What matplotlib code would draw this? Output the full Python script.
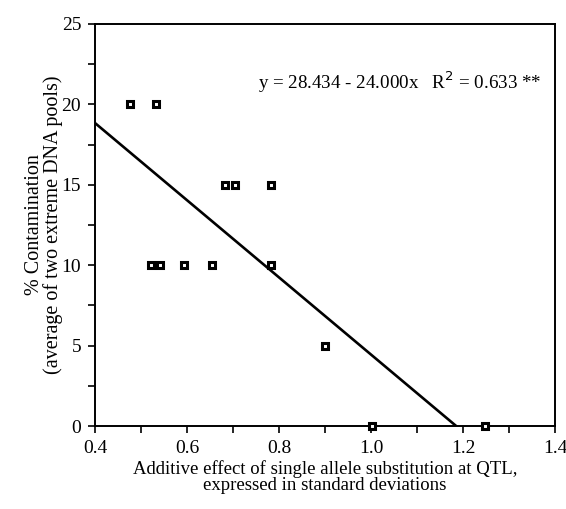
import matplotlib
matplotlib.use("Agg")
import matplotlib.pyplot as plt
from matplotlib.ticker import MultipleLocator, FormatStrFormatter

plt.rcParams["font.family"] = ["Liberation Serif", "DejaVu Serif"]

# additive effect (SD units) vs % contamination
effect = [0.475, 0.532, 0.521, 0.542, 0.593, 0.655, 0.683, 0.704, 0.783, 0.783, 0.900, 1.001, 1.248]
contam = [20, 20, 10, 10, 10, 10, 15, 15, 15, 10, 5, 0, 0]

# regression y = a + b*x
intercept = 28.434
slope = -24.000
r2 = 0.633

fig = plt.figure(figsize=(5.66, 5.09), dpi=100)
ax = fig.add_axes([0.168, 0.163, 0.813, 0.790])

x0 = 0.4
x1 = -intercept / slope
ax.plot([x0, x1], [intercept + slope * x0, intercept + slope * x1], color="black", lw=1.9, zorder=2)
ax.plot(effect, contam, linestyle="none", marker="s", ms=3.8, mfc="white", mec="black", mew=2.2,
        clip_on=False, zorder=3)

ax.text(0.755, 21.4, "y = 28.434 - 24.000x   R$^2$ = %.3f **" % r2, fontsize=13.7, va="center")

ax.set_xlim(0.4, 1.4)
ax.set_ylim(0, 25)
ax.xaxis.set_major_locator(MultipleLocator(0.2))
ax.xaxis.set_minor_locator(MultipleLocator(0.1))
ax.yaxis.set_major_locator(MultipleLocator(5))
ax.yaxis.set_minor_locator(MultipleLocator(2.5))
ax.xaxis.set_major_formatter(FormatStrFormatter("%.1f"))
ax.tick_params(which="both", direction="out", top=False, right=False, labelsize=14, width=1.2,
               length=5, pad=5)
for s in ax.spines.values():
    s.set_linewidth(1.4)

ax.set_xlabel("Additive effect of single allele substitution at QTL,\nexpressed in standard deviations",
              fontsize=13.5, linespacing=0.95, labelpad=2)
ax.set_ylabel("% Contamination\n(average of two extreme DNA pools)", fontsize=14.5, linespacing=0.95,
              labelpad=-1)

fig.savefig("out.png", dpi=100)
